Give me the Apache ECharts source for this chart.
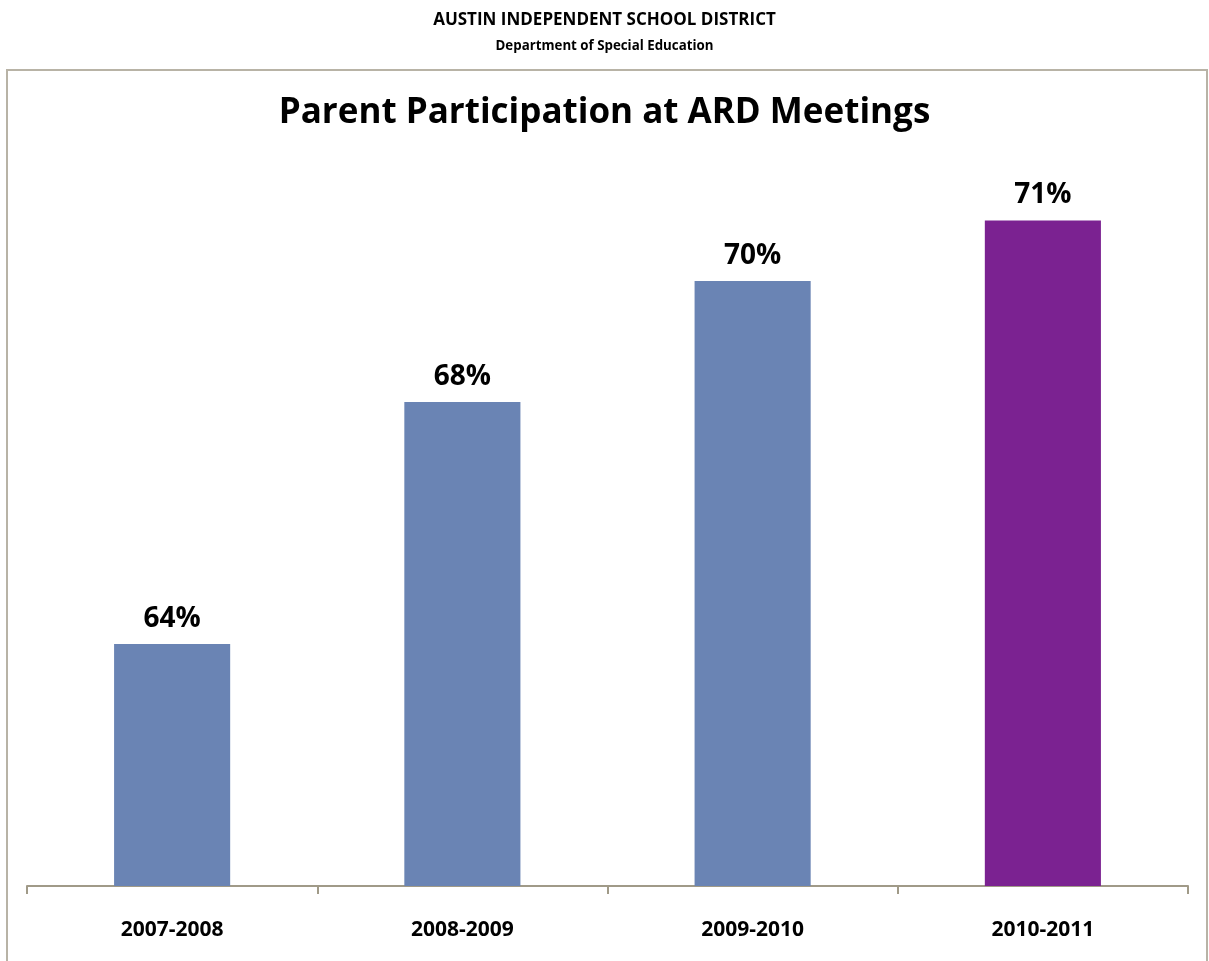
<!DOCTYPE html>
<html>
<head>
<meta charset="utf-8">
<title>Parent Participation at ARD Meetings</title>
<script src="https://cdn.jsdelivr.net/npm/echarts@6/dist/echarts.min.js"></script>
<style>
  html, body { margin: 0; padding: 0; background: #ffffff; }
  #chart { width: 1209px; height: 961px; }
</style>
</head>
<body>
<div id="chart"></div>
<script>
// School years shown on the category axis
const years = ['2007-2008', '2008-2009', '2009-2010', '2010-2011'];
// Share of ARD meetings with a parent present (percent)
const participation = [64, 68, 70, 71];
// Bar fills: earlier years in blue, the latest year highlighted
const barColors = ['#6A84B4', '#6A84B4', '#6A84B4', '#7B2291'];

const FONT = '"Open Sans", "Liberation Sans", sans-serif';

const chart = echarts.init(document.getElementById('chart'), null, { renderer: 'canvas' });

chart.setOption({
  backgroundColor: '#ffffff',
  animation: false,
  title: [
    {
      text: 'AUSTIN INDEPENDENT SCHOOL DISTRICT',
      left: 'center', top: 7,
      textStyle: { fontFamily: FONT, fontWeight: 'bold', fontSize: 17, color: '#000' }
    },
    {
      text: 'Department of Special Education',
      left: 'center', top: 35,
      textStyle: { fontFamily: FONT, fontWeight: 'bold', fontSize: 13.3, color: '#000' }
    },
    {
      text: 'Parent Participation at ARD Meetings',
      left: 'center', top: 91,
      textStyle: { fontFamily: FONT, fontWeight: 'bold', fontSize: 35, color: '#000' }
    }
  ],
  graphic: [
    {
      // outer chart frame
      type: 'rect',
      shape: { x: 7, y: 70, width: 1200, height: 920 },
      style: { fill: 'none', stroke: '#B8B3A6', lineWidth: 2 },
      silent: true,
      z: 0
    }
  ],
  grid: { left: 27, right: 21, top: 160, bottom: 75, containLabel: false },
  xAxis: {
    type: 'category',
    data: years,
    boundaryGap: true,
    axisLine: { show: true, lineStyle: { color: '#A09A88', width: 2 } },
    axisTick: { show: true, length: 8, lineStyle: { color: '#A09A88', width: 2 } },
    axisLabel: {
      fontFamily: FONT, fontWeight: 'bold', fontSize: 21, color: '#000', margin: 34
    }
  },
  yAxis: {
    type: 'value',
    min: 60, max: 72,
    show: false,
    splitLine: { show: false }
  },
  series: [
    {
      type: 'bar',
      barCategoryGap: '60%',
      data: participation.map((v, i) => ({ value: v, itemStyle: { color: barColors[i] } })),
      label: {
        show: true,
        position: 'top',
        distance: 11,
        formatter: p => p.value + '%',
        fontFamily: FONT, fontWeight: 'bold', fontSize: 28, color: '#000'
      }
    }
  ]
});
</script>
</body>
</html>
